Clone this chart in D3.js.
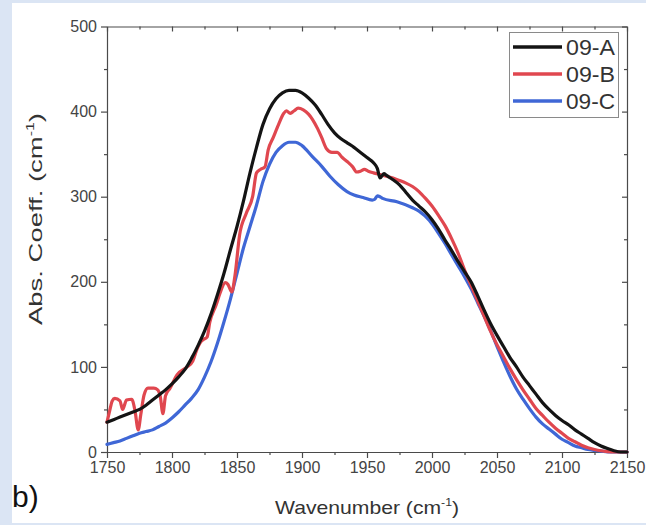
<!DOCTYPE html>
<html>
<head>
<meta charset="utf-8">
<script src="https://cdn.jsdelivr.net/npm/d3@7/dist/d3.min.js"></script>
<style>
  html, body { margin: 0; padding: 0; background: #dbe5f4; }
  svg { display: block; }
  text { font-family: "Liberation Sans", Arial, sans-serif; }
</style>
</head>
<body>
<svg id="chart" width="646" height="525"></svg>
<script>
// Absorption spectra of samples 09-A, 09-B, 09-C (wavenumber in cm^-1, abs. coeff. in cm^-1)
const waveA = [1750,1755,1760,1765,1770,1775,1780,1785,1790,1795,1800,1805,1810,1815,1820,1825,1830,1835,1840,1845,1850,1855,1860,1865,1870,1875,1880,1885,1890,1895,1900,1905,1910,1915,1920,1925,1930,1935,1940,1945,1950,1955,1958,1960,1963,1965,1970,1975,1980,1985,1990,1995,2000,2005,2010,2015,2020,2025,2030,2035,2040,2045,2050,2055,2060,2065,2070,2075,2080,2085,2090,2095,2100,2105,2110,2115,2120,2125,2130,2135,2140,2145,2150];
const absA  = [35,38,41,44,47,50,55,61,67,73,80,88,97,110,125,142,162,185,210,238,265,295,328,358,385,403,415,422,425,425,422,416,408,397,385,375,368,363,358,352,346,340,333,322,327,325,320,314,305,296,289,282,273,262,249,237,224,212,200,184,167,151,137,124,111,100,88,78,68,58,50,43,37,32,26,21,16,11,7,4,1.5,0,0];

const waveB = [1750,1752,1754,1756,1760,1762,1765,1769,1771.5,1774,1776,1778.5,1781.5,1786,1789,1791,1793,1795,1798.5,1804,1811.5,1816,1819,1821.5,1824,1827,1829,1834,1837,1841,1843,1846,1848.5,1852,1857,1862,1865,1868,1871.5,1874,1878,1882,1886,1888,1891,1894,1897,1901,1905,1908,1912,1915,1919,1923,1927,1931,1935,1939,1942,1945,1948,1951,1955,1960,1965,1970,1975,1980,1985,1990,1995,2000,2005,2010,2015,2020,2025,2030,2035,2040,2045,2050,2055,2060,2065,2070,2075,2080,2085,2090,2095,2100,2105,2110,2115,2120,2125,2130,2135,2140,2150];
const absB  = [35,48,60,63,60,50,61,62,49,26,44,67,75,75,73,65,45,66,75,91,100,107,120,128,132,135,152,173,187,199,197,188,208,255,280,300,328,332,335,355,370,385,398,401,398,401,404,402,397,391,380,370,356,352,352,346,341,335,329,330,332,330,328,326,324,322,319,316,312,306,298,289,278,266,251,234,214,196,178,160,142,126,112,98,85,73,62,51,43,35,28,22,16,12,8,5,3,1.5,0.5,0,0];

const waveC = [1750,1755,1760,1765,1770,1775,1780,1785,1790,1795,1800,1805,1810,1815,1820,1825,1830,1835,1840,1845,1850,1855,1860,1865,1870,1875,1880,1885,1890,1895,1900,1908,1915,1921.5,1928,1934.6,1940,1947,1954,1956,1958,1960,1962,1973,1985,1990,1998,2005,2010,2015,2020,2025,2030,2035,2040,2045,2050,2055,2060,2065,2070,2075,2080,2085,2090,2095,2100,2105,2110,2115,2120,2125,2130,2140,2150];
const absC  = [9,11,13,16,19,22,24,26,30,34,40,47,55,63,73,88,106,128,153,180,210,240,265,290,318,338,352,360,364,364,360,347,336,324,314,306,302,299,296,297,301,300,298,294,287,283,272,257,245,232,219,206,192,176,160,143,124,106,89,74,62,51,41,33,27,21,15,11,7,5,3,2,1,0,0];

const seriesNames  = ["09-A", "09-B", "09-C"];
const seriesColors = ["#141414", "#e0474f", "#3f67d6"];

const xTicks = [1750,1800,1850,1900,1950,2000,2050,2100,2150];
const yTicks = [0,100,200,300,400,500];

const svg = d3.select("#chart");

// white panel
svg.append("rect").attr("x", 12).attr("y", 3).attr("width", 634).attr("height", 520).attr("fill", "#ffffff");

const x = d3.scaleLinear().domain([1750, 2150]).range([107, 627]);
const y = d3.scaleLinear().domain([0, 500]).range([452, 26.5]);

const axisColor = "#4a4a4a";
const tickFont = 16;

// axes: bottom/left with outward ticks and labels, top/right mirrored inward
const minorX = d3.range(1775, 2150, 50);
const minorY = d3.range(50, 500, 100);

function styleAxis(g) {
  g.selectAll("path").attr("stroke", axisColor).attr("stroke-width", 1.2);
  g.selectAll("line").attr("stroke", axisColor).attr("stroke-width", 1.2);
  g.selectAll("text").attr("fill", "#444").style("font-size", tickFont + "px")
    .style("font-family", '"Liberation Sans", Arial, sans-serif');
}

const gBottom = svg.append("g").attr("transform", `translate(0,${y(0)})`)
  .call(d3.axisBottom(x).tickValues(xTicks).tickFormat(d3.format("d")).tickSizeInner(6).tickSizeOuter(0).tickPadding(4));
styleAxis(gBottom);
svg.append("g").attr("transform", `translate(0,${y(0)})`)
  .call(d3.axisBottom(x).tickValues(minorX).tickFormat("").tickSizeInner(3).tickSizeOuter(0))
  .call(g => { g.select("path").remove(); styleAxis(g); });

const gLeft = svg.append("g").attr("transform", `translate(${x(1750)},0)`)
  .call(d3.axisLeft(y).tickValues(yTicks).tickFormat(d3.format("d")).tickSizeInner(6).tickSizeOuter(0).tickPadding(4));
styleAxis(gLeft);
svg.append("g").attr("transform", `translate(${x(1750)},0)`)
  .call(d3.axisLeft(y).tickValues(minorY).tickFormat("").tickSizeInner(3).tickSizeOuter(0))
  .call(g => { g.select("path").remove(); styleAxis(g); });

const gTop = svg.append("g").attr("transform", `translate(0,${y(500)})`)
  .call(d3.axisBottom(x).tickValues(xTicks).tickFormat("").tickSizeInner(5).tickSizeOuter(0));
styleAxis(gTop);
svg.append("g").attr("transform", `translate(0,${y(500)})`)
  .call(d3.axisBottom(x).tickValues(minorX).tickFormat("").tickSizeInner(3).tickSizeOuter(0))
  .call(g => { g.select("path").remove(); styleAxis(g); });

const gRight = svg.append("g").attr("transform", `translate(${x(2150)},0)`)
  .call(d3.axisLeft(y).tickValues(yTicks).tickFormat("").tickSizeInner(5).tickSizeOuter(0));
styleAxis(gRight);
svg.append("g").attr("transform", `translate(${x(2150)},0)`)
  .call(d3.axisLeft(y).tickValues(minorY).tickFormat("").tickSizeInner(3).tickSizeOuter(0))
  .call(g => { g.select("path").remove(); styleAxis(g); });

// spectra
const line = d3.line().x(d => x(d[0])).y(d => y(d[1])).curve(d3.curveMonotoneX);
const series = [
  { name: seriesNames[0], color: seriesColors[0], pts: d3.zip(waveA, absA) },
  { name: seriesNames[1], color: seriesColors[1], pts: d3.zip(waveB, absB) },
  { name: seriesNames[2], color: seriesColors[2], pts: d3.zip(waveC, absC) }
];
// draw blue first, then red, then black on top
[2, 1, 0].forEach(i => {
  svg.append("path").datum(series[i].pts)
    .attr("d", line).attr("fill", "none")
    .attr("stroke", series[i].color).attr("stroke-width", 3.2)
    .attr("stroke-linejoin", "round").attr("stroke-linecap", "round");
});

// legend
const lg = svg.append("g");
lg.append("rect").attr("x", 509.5).attr("y", 32.5).attr("width", 109).attr("height", 85)
  .attr("fill", "#fff").attr("stroke", "#8a8a8a").attr("stroke-width", 1);
series.forEach((s, i) => {
  const yy = 47 + i * 27;
  lg.append("line").attr("x1", 513).attr("x2", 562).attr("y1", yy).attr("y2", yy)
    .attr("stroke", s.color).attr("stroke-width", 3.5);
  lg.append("text").attr("x", 566).attr("y", yy + 8).attr("fill", "#333")
    .style("font-size", "22px").attr("textLength", 49).attr("lengthAdjust", "spacingAndGlyphs")
    .text(s.name);
});

// axis titles
const xt = svg.append("text").attr("x", 367).attr("y", 514).attr("text-anchor", "middle")
  .attr("fill", "#333").style("font-size", "19px");
xt.append("tspan").text("Wavenumber (cm");
xt.append("tspan").attr("dy", -8).style("font-size", "11px").text("-1");
xt.append("tspan").attr("dy", 8).text(")");
xt.attr("textLength", 184).attr("lengthAdjust", "spacingAndGlyphs");

const yt = svg.append("text").attr("transform", "translate(42,219) rotate(-90)")
  .attr("text-anchor", "middle").attr("fill", "#333").style("font-size", "19px");
yt.append("tspan").text("Abs. Coeff. (cm");
yt.append("tspan").attr("dy", -8).style("font-size", "11px").text("-1");
yt.append("tspan").attr("dy", 8).text(")");
yt.attr("textLength", 212).attr("lengthAdjust", "spacingAndGlyphs");

// panel label
svg.append("text").attr("x", 12).attr("y", 507).attr("fill", "#111")
  .style("font-size", "30px").text("b)");
</script>
</body>
</html>
